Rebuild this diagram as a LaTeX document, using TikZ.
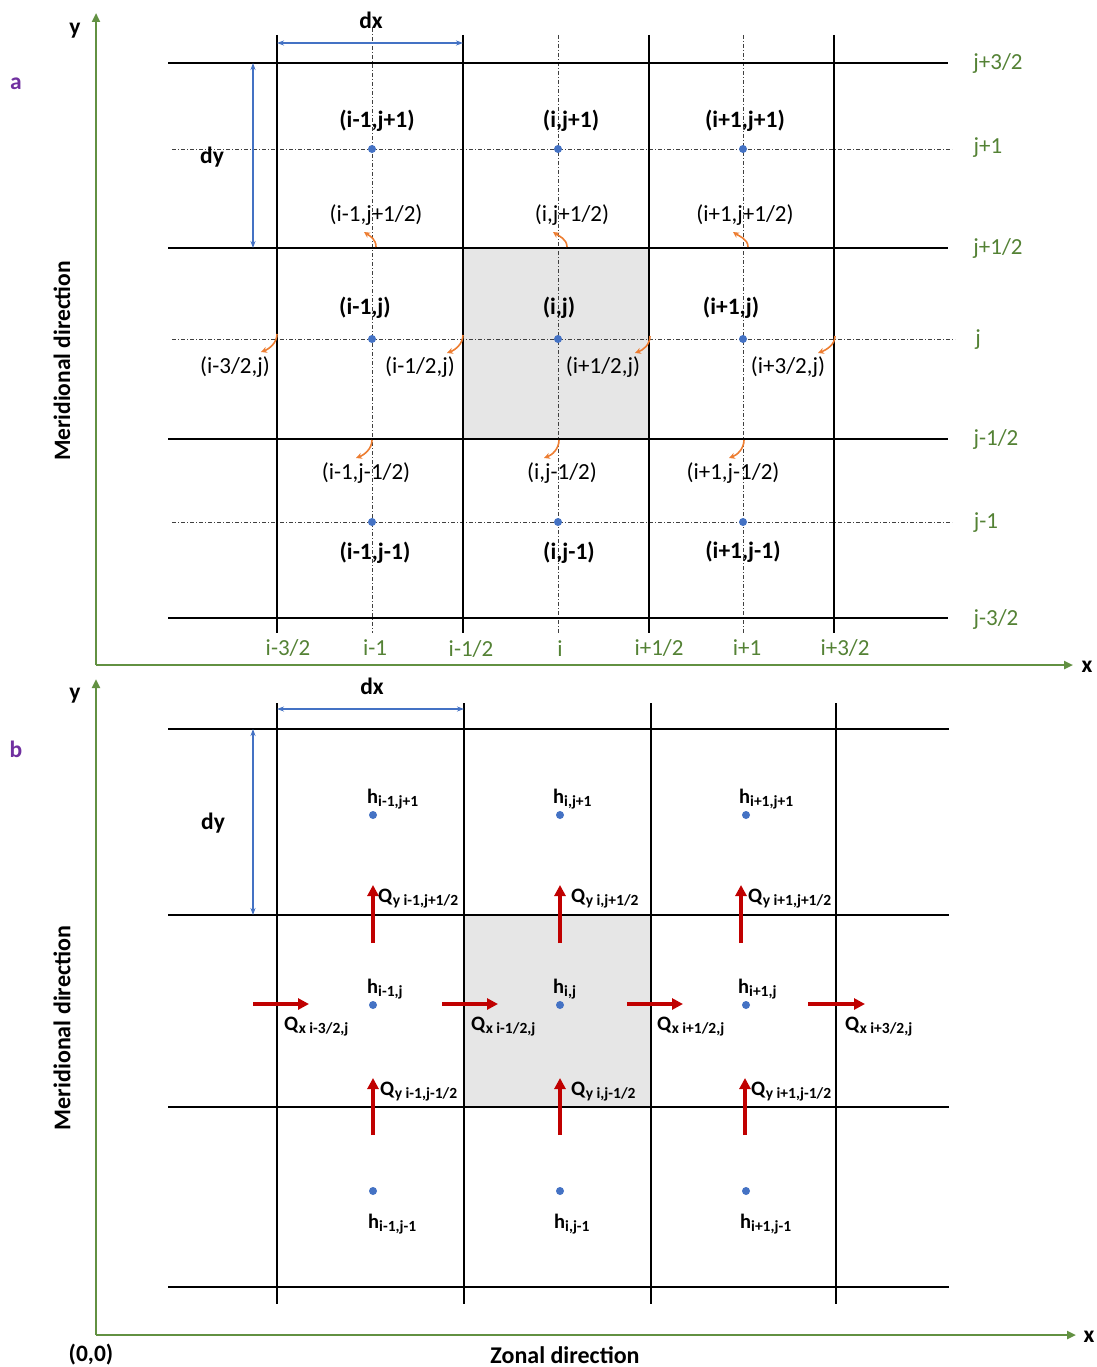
\documentclass[tikz,border=0pt]{standalone}
\usepackage{fontspec}
\setmainfont{Carlito}
\usetikzlibrary{arrows.meta}
\definecolor{gridgreen}{RGB}{84,130,53}
\definecolor{axgreen}{RGB}{98,145,66}
\definecolor{dotblue}{RGB}{68,114,196}
\definecolor{arrorange}{RGB}{237,125,49}
\definecolor{qred}{RGB}{192,0,0}
\definecolor{cellgray}{RGB}{230,230,230}
\definecolor{lblpurple}{RGB}{112,48,160}
\newcommand\hlab[1]{\textbf{h}\raisebox{-0.35ex}{\fontsize{15.5}{15.5}\selectfont\bfseries #1}}
\newcommand\qlab[1]{\textbf{Q}\raisebox{-0.35ex}{\fontsize{15.5}{15.5}\selectfont\bfseries #1}}
\begin{document}
\begin{tikzpicture}[x=1pt,y=-1pt,
  gridline/.style={line width=1.5pt, black},
  centerline/.style={line width=0.6pt, black!75, dash pattern=on 4pt off 2pt on 1pt off 2pt},
  axisline/.style={line width=2.6pt, axgreen, -{Triangle[length=9pt,width=8pt]}},
  dimline/.style={dotblue, line width=1.2pt, {Stealth[length=7pt,width=5pt]}-{Stealth[length=7pt,width=5pt]}},
  orarrow/.style={arrorange, line width=1.6pt, -{Stealth[length=6pt,width=6pt]}},
  redarrow/.style={qred, line width=3.2pt, -{Triangle[length=11pt,width=11pt]}},
  gdot/.style={circle, fill=dotblue, inner sep=0pt, minimum size=8pt},
  lbl/.style={inner sep=0pt, font=\fontsize{23}{27}\selectfont},
  blbl/.style={inner sep=0pt, font=\fontsize{23.5}{27}\selectfont\bfseries},
  glbl/.style={inner sep=0pt, font=\fontsize{23}{27}\selectfont, text=gridgreen},
  slbl/.style={inner sep=0pt, font=\fontsize{20.5}{24}\selectfont, anchor=base west},
]
\useasboundingbox (0,0) rectangle (1096,1367);
\fill[white] (0,0) rectangle (1096,1367);

%%%%%%%%%%%%%%%% PANEL A %%%%%%%%%%%%%%%%
\fill[cellgray] (463,248) rectangle (649,439);
% centre lines
\draw[centerline] (172,149) -- (952,149);
\draw[centerline] (172,339) -- (955,339);
\draw[centerline] (172,522) -- (952,522);
\draw[centerline] (372,28) -- (372,633);
\draw[centerline] (558,35) -- (558,633);
\draw[centerline] (743,35) -- (743,633);
% cell faces
\foreach \yy in {63,248,439,618} \draw[gridline] (168,\yy) -- (948,\yy);
\foreach \xx in {277,463,649,834} \draw[gridline] (\xx,35) -- (\xx,633);
% dots
\node[gdot] (a11) at (372,149) {};
\node[gdot] (a21) at (558,149) {};
\node[gdot] (a31) at (743,149) {};
\node[gdot] (a12) at (372,339) {};
\node[gdot] (a22) at (558,339) {};
\node[gdot] (a32) at (743,339) {};
\node[gdot] (a13) at (372,522) {};
\node[gdot] (a23) at (558,522) {};
\node[gdot] (a33) at (743,522) {};
% bold labels
\node[blbl] (la11) at (377,121) {(i-1,j+1)};
\node[blbl] (la21) at (571,121) {(i,j+1)};
\node[blbl] (la31) at (745,121) {(i+1,j+1)};
\node[blbl] (la12) at (365,308) {(i-1,j)};
\node[blbl] (la22) at (559,308) {(i,j)};
\node[blbl] (la32) at (731,308) {(i+1,j)};
\node[blbl] (la13) at (375,553) {(i-1,j-1)};
\node[blbl] (la23) at (569,553) {(i,j-1)};
\node[blbl] (la33) at (743,552) {(i+1,j-1)};
% face labels
\node[lbl] (f1) at (376,215) {(i-1,j+1/2)};
\node[lbl] (f2) at (572,215) {(i,j+1/2)};
\node[lbl] (f3) at (745,215) {(i+1,j+1/2)};
\node[lbl] (f4) at (235,367) {(i-3/2,j)};
\node[lbl] (f5) at (420,367) {(i-1/2,j)};
\node[lbl] (f6) at (603,367) {(i+1/2,j)};
\node[lbl] (f7) at (788,367) {(i+3/2,j)};
\node[lbl] (f8) at (366,473) {(i-1,j-1/2)};
\node[lbl] (f9) at (562,473) {(i,j-1/2)};
\node[lbl] (f10) at (733,473) {(i+1,j-1/2)};
% orange pointers
\coordinate (o1s) at (376,247); \coordinate (o1e) at (364,232);
\coordinate (o2s) at (567,247); \coordinate (o2e) at (553,232);
\coordinate (o3s) at (748,247); \coordinate (o3e) at (733,232);
\coordinate (o4s) at (277,334); \coordinate (o4e) at (261,352);
\coordinate (o5s) at (463,335); \coordinate (o5e) at (447,353);
\coordinate (o6s) at (650,336); \coordinate (o6e) at (635,353);
\coordinate (o7s) at (835,336); \coordinate (o7e) at (818,353);
\coordinate (o8s) at (372,440); \coordinate (o8e) at (356,458);
\coordinate (o9s) at (559,440); \coordinate (o9e) at (544,458);
\coordinate (o10s) at (744,440); \coordinate (o10e) at (729,458);
\foreach \k in {1,2,3}
  \draw[orarrow] (o\k s) .. controls +(0,-8) and +(6,4) .. (o\k e);
\foreach \k in {4,5,6,7,8,9,10}
  \draw[orarrow] (o\k s) .. controls +(0,9) and +(8,-3) .. (o\k e);
% green index labels
\node[glbl] (gj1) at (998,63) {j+3/2};
\node[glbl] (gj2) at (988,148) {j+1};
\node[glbl] (gj3) at (998,248) {j+1/2};
\node[glbl] (gj4) at (978,340) {j};
\node[glbl] (gj5) at (996,439) {j-1/2};
\node[glbl] (gj6) at (986,523) {j-1};
\node[glbl] (gj7) at (996,619) {j-3/2};
\node[glbl] (gi1) at (288,648) {i-3/2};
\node[glbl] (gi2) at (375,648) {i-1};
\node[glbl] (gi3) at (471,649) {i-1/2};
\node[glbl] (gi4) at (560,649) {i};
\node[glbl] (gi5) at (659,648) {i+1/2};
\node[glbl] (gi6) at (747,648) {i+1};
\node[glbl] (gi7) at (845,648) {i+3/2};
% dimensions
\coordinate (adxa) at (277,43); \coordinate (adxb) at (463,43);
\draw[dimline] (adxa) -- (adxb);
\node[blbl] (adx) at (371,20) {dx};
\coordinate (adya) at (253,63); \coordinate (adyb) at (253,248);
\draw[dimline] (adya) -- (adyb);
\node[blbl] (ady) at (212,157) {dy};
% axes
\coordinate (ao) at (96,665);
\coordinate (ay) at (96,13);
\coordinate (ax) at (1073,665);
\draw[axisline] (ao) -- (ay);
\draw[axisline] (ao) -- (ax);
\node[blbl] (aylab) at (75,31) {y};
\node[blbl] (axlab) at (1087,667) {x};
\node[blbl, text=lblpurple] (pa) at (16,84) {a};
\node[blbl, rotate=90] (amer) at (62,361) {Meridional direction};

%%%%%%%%%%%%%%%% PANEL B %%%%%%%%%%%%%%%%
\fill[cellgray] (464,915) rectangle (651,1107);
\foreach \yy in {729,915,1107,1287} \draw[gridline] (168,\yy) -- (949,\yy);
\foreach \xx in {277,464,651,836} \draw[gridline] (\xx,703) -- (\xx,1304);
% dots
\node[gdot] (b11) at (373,815) {};
\node[gdot] (b21) at (560,815) {};
\node[gdot] (b31) at (746,815) {};
\node[gdot] (b12) at (373,1005) {};
\node[gdot] (b22) at (560,1005) {};
\node[gdot] (b32) at (746,1005) {};
\node[gdot] (b13) at (373,1191) {};
\node[gdot] (b23) at (560,1191) {};
\node[gdot] (b33) at (746,1191) {};
% h labels
\node[slbl] (h11) at (367,803) {\hlab{i-1,j+1}};
\node[slbl] (h21) at (553,803) {\hlab{i,j+1}};
\node[slbl] (h31) at (739,803) {\hlab{i+1,j+1}};
\node[slbl] (h12) at (367,993) {\hlab{i-1,j}};
\node[slbl] (h22) at (553,993) {\hlab{i,j}};
\node[slbl] (h32) at (738,993) {\hlab{i+1,j}};
\node[slbl] (h13) at (368,1228) {\hlab{i-1,j-1}};
\node[slbl] (h23) at (554,1228) {\hlab{i,j-1}};
\node[slbl] (h33) at (740,1228) {\hlab{i+1,j-1}};
% Qy arrows
\coordinate (qy1s) at (373,943); \coordinate (qy1e) at (373,885);
\coordinate (qy2s) at (560,943); \coordinate (qy2e) at (560,885);
\coordinate (qy3s) at (741,943); \coordinate (qy3e) at (741,885);
\coordinate (qy4s) at (373,1135); \coordinate (qy4e) at (373,1078);
\coordinate (qy5s) at (560,1135); \coordinate (qy5e) at (560,1078);
\coordinate (qy6s) at (745,1135); \coordinate (qy6e) at (745,1078);
\foreach \k in {1,...,6} \draw[redarrow] (qy\k s) -- (qy\k e);
% Qx arrows
\coordinate (qx1s) at (253,1004); \coordinate (qx1e) at (309,1004);
\coordinate (qx2s) at (442,1004); \coordinate (qx2e) at (498,1004);
\coordinate (qx3s) at (627,1004); \coordinate (qx3e) at (683,1004);
\coordinate (qx4s) at (808,1004); \coordinate (qx4e) at (865,1004);
\foreach \k in {1,...,4} \draw[redarrow] (qx\k s) -- (qx\k e);
% Q labels
\node[slbl] (ly1) at (378,902) {\qlab{y i-1,j+1/2}};
\node[slbl] (ly2) at (571,902) {\qlab{y i,j+1/2}};
\node[slbl] (ly3) at (748,902) {\qlab{y i+1,j+1/2}};
\node[slbl] (ly4) at (380,1095) {\qlab{y i-1,j-1/2}};
\node[slbl] (ly5) at (571,1095) {\qlab{y i,j-1/2}};
\node[slbl] (ly6) at (751,1095) {\qlab{y i+1,j-1/2}};
\node[slbl] (lx1) at (284,1030) {\qlab{x i-3/2,j}};
\node[slbl] (lx2) at (471,1030) {\qlab{x i-1/2,j}};
\node[slbl] (lx3) at (657,1030) {\qlab{x i+1/2,j}};
\node[slbl] (lx4) at (845,1030) {\qlab{x i+3/2,j}};
% dimensions
\coordinate (bdxa) at (277,709); \coordinate (bdxb) at (464,709);
\draw[dimline] (bdxa) -- (bdxb);
\node[blbl] (bdx) at (372,686) {dx};
\coordinate (bdya) at (253,729); \coordinate (bdyb) at (253,915);
\draw[dimline] (bdya) -- (bdyb);
\node[blbl] (bdy) at (213,823) {dy};
% axes
\coordinate (bo) at (96,1335);
\coordinate (by) at (96,679);
\coordinate (bx) at (1076,1335);
\draw[axisline] (bo) -- (by);
\draw[axisline] (bo) -- (bx);
\node[blbl] (bylab) at (75,696) {y};
\node[blbl] (bxlab) at (1089,1337) {x};
\node[blbl, text=lblpurple] (pb) at (16,749) {b};
\node[blbl, rotate=90, font=\fontsize{24}{28}\selectfont\bfseries] (bmer) at (62,1028) {Meridional direction};
\node[blbl] (orig) at (91,1355) {(0,0)};
\node[blbl, font=\fontsize{24}{28}\selectfont\bfseries] (zon) at (565,1355) {Zonal direction};
\end{tikzpicture}
\end{document}
